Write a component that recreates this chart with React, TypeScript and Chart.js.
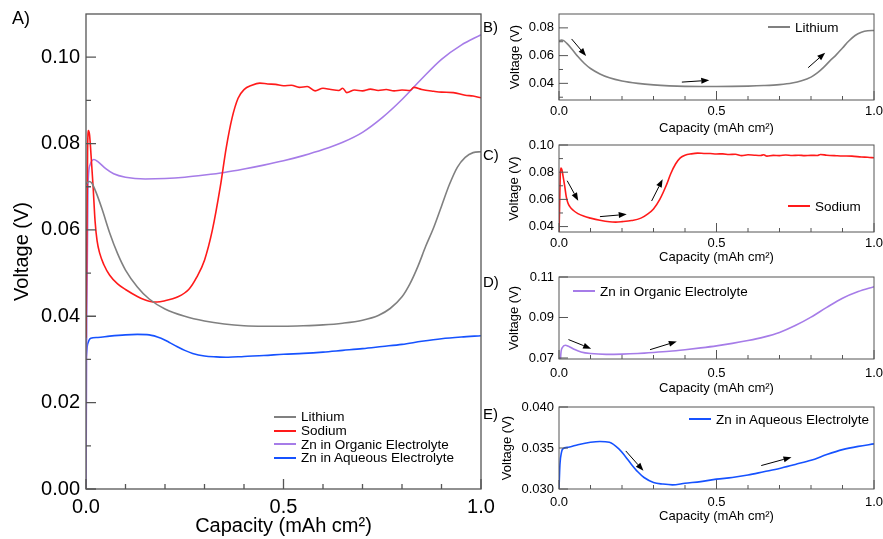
import React, { useEffect, useRef } from 'react';
import { Chart, registerables } from 'chart.js';
Chart.register(...registerables);

const FONT = '"Liberation Sans", Arial, Helvetica, sans-serif';

type Pt = [number, number];

// ---- data (capacity mAh cm^2, voltage V) ----
const lithium: Pt[] = [
  [0.0, 0.0706], [0.008, 0.0712], [0.015, 0.0708], [0.025, 0.0688], [0.04, 0.065], [0.06, 0.0593],
  [0.08, 0.0545], [0.1, 0.0507], [0.13, 0.0468], [0.16, 0.044], [0.2, 0.0417], [0.25, 0.04],
  [0.3, 0.0389], [0.35, 0.0382], [0.4, 0.0378], [0.45, 0.0377], [0.5, 0.0377], [0.55, 0.0378],
  [0.6, 0.038], [0.65, 0.0384], [0.7, 0.0391], [0.74, 0.0402], [0.77, 0.0418], [0.8, 0.0445],
  [0.82, 0.0475], [0.84, 0.0515], [0.86, 0.0562], [0.88, 0.0605], [0.9, 0.0655], [0.92, 0.0705],
  [0.94, 0.0745], [0.96, 0.0768], [0.98, 0.0779], [1.0, 0.0781],
];
const sodium: Pt[] = [
  [0.0, 0.035], [0.002, 0.056], [0.004, 0.078], [0.006, 0.083], [0.009, 0.082], [0.013, 0.077],
  [0.018, 0.07], [0.023, 0.062], [0.028, 0.0575], [0.035, 0.0545], [0.045, 0.052], [0.06, 0.0495],
  [0.08, 0.0475], [0.1, 0.0462], [0.13, 0.0446], [0.16, 0.0435], [0.18, 0.0433], [0.2, 0.0436],
  [0.23, 0.0444], [0.26, 0.0462], [0.28, 0.049], [0.3, 0.053], [0.32, 0.06], [0.34, 0.07],
  [0.355, 0.079], [0.37, 0.086], [0.385, 0.0905], [0.4, 0.0925], [0.42, 0.0935], [0.44, 0.094],
  [0.46, 0.0938], [0.48, 0.0937], [0.5, 0.0934], [0.52, 0.0935], [0.54, 0.093], [0.56, 0.0932],
  [0.58, 0.0922], [0.6, 0.0928], [0.62, 0.0925], [0.64, 0.0923], [0.65, 0.0928], [0.66, 0.0918],
  [0.68, 0.0924], [0.7, 0.0922], [0.72, 0.0926], [0.74, 0.0923], [0.76, 0.0925], [0.78, 0.0922],
  [0.8, 0.0924], [0.82, 0.0923], [0.83, 0.093], [0.85, 0.0925], [0.88, 0.0921], [0.9, 0.0919],
  [0.93, 0.0918], [0.96, 0.0912], [0.98, 0.091], [1.0, 0.0906],
];
const znOrganic: Pt[] = [
  [0.0, 0.0], [0.002, 0.04], [0.005, 0.07], [0.01, 0.075], [0.02, 0.0763], [0.03, 0.0758],
  [0.05, 0.0742], [0.07, 0.073], [0.1, 0.0722], [0.15, 0.0718], [0.2, 0.0719], [0.25, 0.0722],
  [0.3, 0.0727], [0.35, 0.0733], [0.4, 0.0741], [0.45, 0.075], [0.5, 0.076], [0.55, 0.0772],
  [0.6, 0.0786], [0.65, 0.0803], [0.7, 0.0826], [0.75, 0.086], [0.8, 0.0902], [0.85, 0.095],
  [0.9, 0.0995], [0.95, 0.1028], [1.0, 0.1052],
];
const znAqueous: Pt[] = [
  [0.0, 0.03], [0.003, 0.033], [0.008, 0.0345], [0.012, 0.0349], [0.03, 0.0351], [0.06, 0.0354],
  [0.1, 0.0357], [0.13, 0.0358], [0.16, 0.0357], [0.19, 0.0349], [0.21, 0.034], [0.23, 0.033],
  [0.25, 0.0321], [0.27, 0.0314], [0.3, 0.0308], [0.33, 0.0306], [0.36, 0.0305], [0.4, 0.0307],
  [0.45, 0.0309], [0.5, 0.0312], [0.55, 0.0314], [0.6, 0.0317], [0.65, 0.0321], [0.7, 0.0325],
  [0.75, 0.033], [0.8, 0.0335], [0.85, 0.0342], [0.9, 0.0348], [0.95, 0.0352], [1.0, 0.0355],
];

const seriesData: Pt[][] = [lithium, sodium, znOrganic, znAqueous];
const seriesNames = ['Lithium', 'Sodium', 'Zn in Organic Electrolyte', 'Zn in Aqueous Electrolyte'];
const seriesColors = ['#808080', '#ff1a1a', '#a67ce8', '#1652ff'];

// ---- ticks ----
const xMajor = [0, 0.5, 1.0];
const xLabels = ['0.0', '0.5', '1.0'];
const xMinor = [0.1, 0.2, 0.3, 0.4, 0.6, 0.7, 0.8, 0.9];

const aYMajor = [0, 0.02, 0.04, 0.06, 0.08, 0.1];
const aYLabels = ['0.00', '0.02', '0.04', '0.06', '0.08', '0.10'];
const aYMinor = [0.01, 0.03, 0.05, 0.07, 0.09];

const bYMajor = [0.04, 0.06, 0.08];
const bYLabels = ['0.04', '0.06', '0.08'];
const bYMinor = [0.03, 0.05, 0.07];

const cYMajor = [0.04, 0.06, 0.08, 0.1];
const cYLabels = ['0.04', '0.06', '0.08', '0.10'];
const cYMinor = [0.05, 0.07, 0.09];

const dYMajor = [0.07, 0.09, 0.11];
const dYLabels = ['0.07', '0.09', '0.11'];
const dYMinor: number[] = [];

const eYMajor = [0.03, 0.035, 0.04];
const eYLabels = ['0.030', '0.035', '0.040'];
const eYMinor: number[] = [];

// ---- annotation arrows [x1, y1, x2, y2] in data units ----
type Arrow = [number, number, number, number];
const arrowsB: Arrow[] = [[0.04, 0.072, 0.086, 0.0597], [0.39, 0.0409, 0.477, 0.0422], [0.791, 0.0513, 0.845, 0.0621]];
const arrowsC: Arrow[] = [[0.026, 0.0737, 0.061, 0.059], [0.13, 0.0473, 0.215, 0.049], [0.294, 0.0588, 0.329, 0.0748]];
const arrowsD: Arrow[] = [[0.03, 0.0791, 0.102, 0.0746], [0.289, 0.0741, 0.374, 0.0782]];
const arrowsE: Arrow[] = [[0.212, 0.03464, 0.268, 0.03222], [0.642, 0.03286, 0.738, 0.03387]];

interface Spec {
  left: number; top: number; w: number; h: number;
  padTop: number; padRight: number; yW: number; xH: number;
  yMin: number; yMax: number; yMajor: number[]; yLabels: string[]; yMinor: number[];
  series: number[]; arrows: Arrow[];
  tickFont: number; titleFont: number;
  xLabelPad: number; xTitlePad: number; yLabelPad: number; yTitlePad: number;
  majorLen: number; minorLen: number; frameW: number; lineW: number;
}

const FRAME = '#555555';

function makePlugin(spec: Spec) {
  return {
    id: 'frameTicks',
    afterDatasetsDraw(chart: any) {
      const { ctx, chartArea: a, scales } = chart;
      const xs = scales.x, ys = scales.y;
      ctx.save();
      ctx.strokeStyle = FRAME;
      ctx.lineWidth = spec.frameW;
      ctx.strokeRect(a.left, a.top, a.right - a.left, a.bottom - a.top);
      ctx.beginPath();
      const xt = (v: number, len: number) => {
        const p = xs.getPixelForValue(v);
        ctx.moveTo(p, a.bottom);
        ctx.lineTo(p, a.bottom - len);
      };
      const yt = (v: number, len: number) => {
        const p = ys.getPixelForValue(v);
        ctx.moveTo(a.left, p);
        ctx.lineTo(a.left + len, p);
      };
      xMajor.forEach((v) => xt(v, spec.majorLen));
      xMinor.forEach((v) => xt(v, spec.minorLen));
      spec.yMajor.forEach((v) => yt(v, spec.majorLen));
      spec.yMinor.forEach((v) => yt(v, spec.minorLen));
      ctx.stroke();
      // arrows
      ctx.strokeStyle = '#000';
      ctx.fillStyle = '#000';
      ctx.lineWidth = 1;
      for (const [x1, y1, x2, y2] of spec.arrows) {
        const px1 = xs.getPixelForValue(x1), py1 = ys.getPixelForValue(y1);
        const px2 = xs.getPixelForValue(x2), py2 = ys.getPixelForValue(y2);
        const ang = Math.atan2(py2 - py1, px2 - px1);
        const hl = 8, hw = 3;
        const bx = px2 - hl * Math.cos(ang), by = py2 - hl * Math.sin(ang);
        ctx.beginPath();
        ctx.moveTo(px1, py1);
        ctx.lineTo(bx, by);
        ctx.stroke();
        ctx.beginPath();
        ctx.moveTo(px2, py2);
        ctx.lineTo(bx + hw * Math.sin(ang), by - hw * Math.cos(ang));
        ctx.lineTo(bx - hw * Math.sin(ang), by + hw * Math.cos(ang));
        ctx.closePath();
        ctx.fill();
      }
      ctx.restore();
    },
  };
}

function buildConfig(spec: Spec): any {
  return {
    type: 'line',
    data: {
      datasets: spec.series.map((i) => ({
        label: seriesNames[i],
        data: seriesData[i].map(([x, y]) => ({ x, y })),
        borderColor: seriesColors[i],
        backgroundColor: seriesColors[i],
        borderWidth: spec.lineW,
        pointRadius: 0,
        fill: false,
        cubicInterpolationMode: 'monotone',
      })),
    },
    options: {
      responsive: false,
      animation: false,
      parsing: true,
      layout: { padding: { top: spec.padTop, right: spec.padRight, left: 0, bottom: 0 } },
      plugins: { legend: { display: false }, tooltip: { enabled: false } },
      scales: {
        x: {
          type: 'linear', min: 0, max: 1,
          afterBuildTicks: (s: any) => { s.ticks = xMajor.map((v) => ({ value: v })); },
          afterFit: (s: any) => { s.height = spec.xH; s.paddingLeft = 0; s.paddingRight = 0; },
          grid: { display: false, drawTicks: false },
          border: { display: false },
          ticks: {
            autoSkip: false, maxRotation: 0, color: '#000', padding: spec.xLabelPad,
            font: { family: FONT, size: spec.tickFont },
            callback: (_v: any, idx: number) => xLabels[idx],
          },
          title: {
            display: true, text: 'Capacity (mAh cm²)', color: '#000',
            font: { family: FONT, size: spec.titleFont },
            padding: { top: 0, bottom: spec.xTitlePad },
          },
        },
        y: {
          type: 'linear', min: spec.yMin, max: spec.yMax,
          afterBuildTicks: (s: any) => { s.ticks = spec.yMajor.map((v) => ({ value: v })); },
          afterFit: (s: any) => { s.width = spec.yW; s.paddingTop = 0; s.paddingBottom = 0; },
          grid: { display: false, drawTicks: false },
          border: { display: false },
          ticks: {
            autoSkip: false, color: '#000', padding: spec.yLabelPad,
            font: { family: FONT, size: spec.tickFont },
            callback: (_v: any, idx: number) => spec.yLabels[idx],
          },
          title: {
            display: true, text: 'Voltage (V)', color: '#000',
            font: { family: FONT, size: spec.titleFont },
            padding: { top: spec.yTitlePad, bottom: 0 },
          },
        },
      },
    },
    plugins: [makePlugin(spec)],
  };
}

function Panel({ spec }: { spec: Spec }) {
  const ref = useRef<HTMLCanvasElement>(null);
  useEffect(() => {
    const chart = new Chart(ref.current as HTMLCanvasElement, buildConfig(spec));
    return () => chart.destroy();
  }, []);
  return (
    <canvas
      ref={ref}
      width={spec.w}
      height={spec.h}
      style={{ position: 'absolute', left: spec.left, top: spec.top, width: spec.w, height: spec.h }}
    />
  );
}

const common = {
  tickFont: 13, titleFont: 13, majorLen: 9, minorLen: 4, frameW: 1, lineW: 1.6,
  left: 495, w: 388, yW: 64, padRight: 9, yLabelPad: 5,
};

const specA: Spec = {
  left: 0, top: 0, w: 500, h: 539, padTop: 14, padRight: 19, yW: 86, xH: 50,
  yMin: 0, yMax: 0.11, yMajor: aYMajor, yLabels: aYLabels, yMinor: aYMinor,
  series: [0, 1, 2, 3], arrows: [], tickFont: 20, titleFont: 20,
  xLabelPad: 6, xTitlePad: 1, yLabelPad: 6, yTitlePad: 10,
  majorLen: 10, minorLen: 5, frameW: 1.3, lineW: 1.6,
};
const specB: Spec = {
  ...common, top: 0, h: 137, padTop: 14, xH: 37,
  yMin: 0.028, yMax: 0.09, yMajor: bYMajor, yLabels: bYLabels, yMinor: bYMinor,
  series: [0], arrows: arrowsB, xLabelPad: 4, xTitlePad: 1, yTitlePad: 12.5,
};
const specC: Spec = {
  ...common, top: 131, h: 136, padTop: 14, xH: 35,
  yMin: 0.036, yMax: 0.1, yMajor: cYMajor, yLabels: cYLabels, yMinor: cYMinor,
  series: [1], arrows: arrowsC, xLabelPad: 4, xTitlePad: 1.5, yTitlePad: 12,
};
const specD: Spec = {
  ...common, top: 262, h: 136, padTop: 15, xH: 39,
  yMin: 0.0695, yMax: 0.11, yMajor: dYMajor, yLabels: dYLabels, yMinor: dYMinor,
  series: [2], arrows: arrowsD, xLabelPad: 7, xTitlePad: 2, yTitlePad: 12,
};
const specE: Spec = {
  ...common, top: 393, h: 146, padTop: 14, xH: 50,
  yMin: 0.03, yMax: 0.04, yMajor: eYMajor, yLabels: eYLabels, yMinor: eYMinor,
  series: [3], arrows: arrowsE, xLabelPad: 6, xTitlePad: 15, yTitlePad: 5,
};

function LegendRow({ x, y, idx }: { x: number; y: number; idx: number }) {
  return (
    <div style={{ position: 'absolute', left: x, top: y - 8, height: 16, display: 'flex', alignItems: 'center', whiteSpace: 'nowrap', fontFamily: FONT, fontSize: 13.5, color: '#000' }}>
      <span style={{ display: 'inline-block', width: 22, height: 2, background: seriesColors[idx], marginRight: 5 }} />
      <span>{seriesNames[idx]}</span>
    </div>
  );
}

function Label({ x, y, text, size }: { x: number; y: number; text: string; size: number }) {
  return (
    <div style={{ position: 'absolute', left: x, top: y - size * 0.6, fontFamily: FONT, fontSize: size, lineHeight: `${size * 1.2}px`, color: '#000' }}>
      {text}
    </div>
  );
}

export default function App() {
  return (
    <div style={{ position: 'absolute', left: 0, top: 0, width: 883, height: 539, background: '#fff', overflow: 'hidden' }}>
      <Panel spec={specA} />
      <Panel spec={specB} />
      <Panel spec={specC} />
      <Panel spec={specD} />
      <Panel spec={specE} />
      <LegendRow x={274} y={416.7} idx={0} />
      <LegendRow x={274} y={430.7} idx={1} />
      <LegendRow x={274} y={444.2} idx={2} />
      <LegendRow x={274} y={457.7} idx={3} />
      <LegendRow x={768} y={27} idx={0} />
      <LegendRow x={788} y={206} idx={1} />
      <LegendRow x={573} y={291} idx={2} />
      <LegendRow x={689} y={419} idx={3} />
      <Label x={12} y={19} text="A)" size={18} />
      <Label x={483} y={27} text="B)" size={15} />
      <Label x={483} y={155} text="C)" size={15} />
      <Label x={483} y={282} text="D)" size={15} />
      <Label x={483} y={414} text="E)" size={15} />
    </div>
  );
}
